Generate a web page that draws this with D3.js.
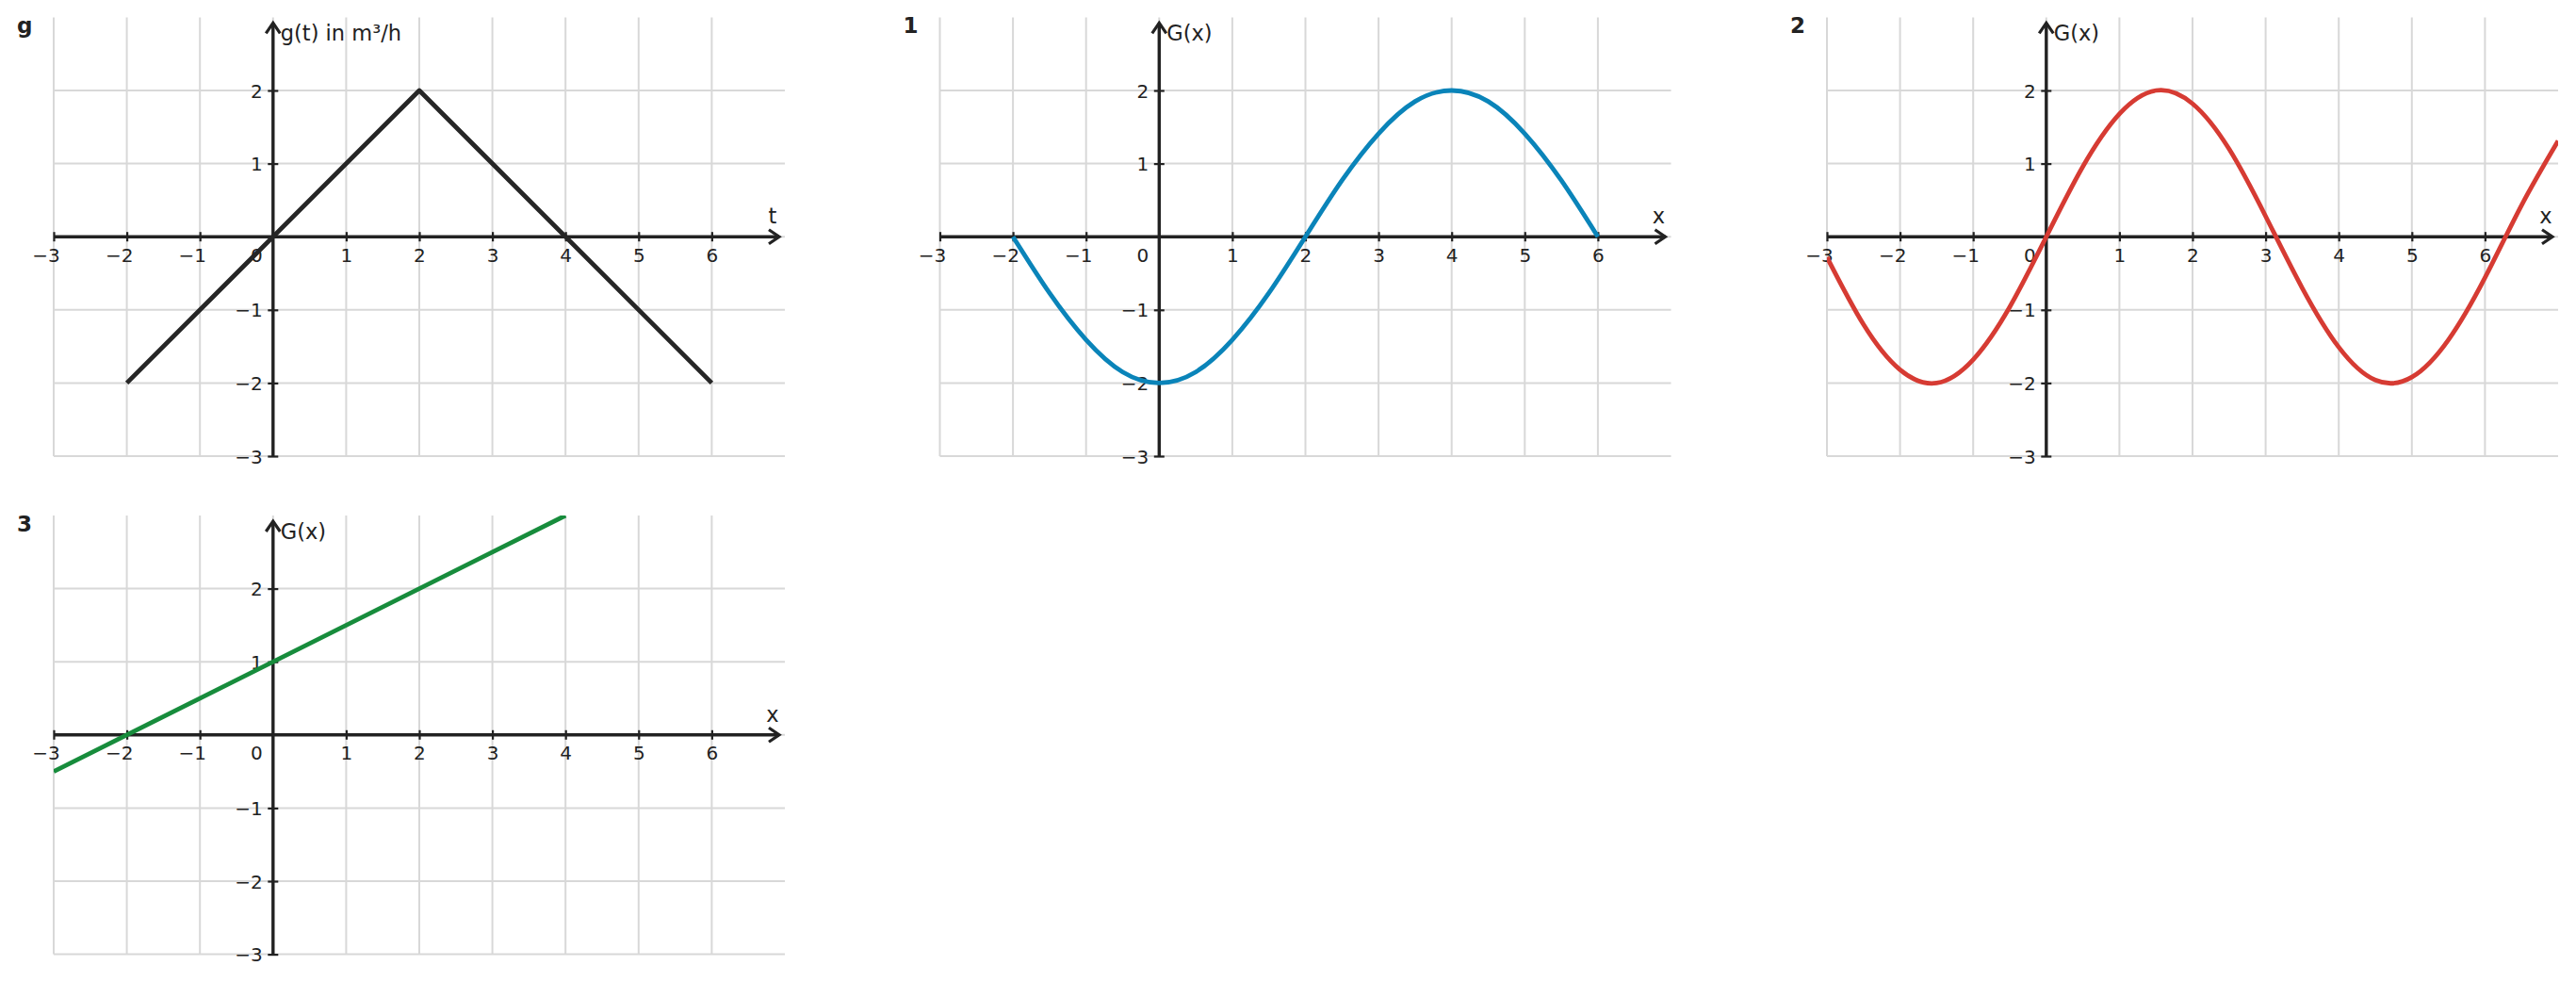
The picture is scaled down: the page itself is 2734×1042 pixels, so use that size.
<!DOCTYPE html>
<html>
<head>
<meta charset="utf-8">
<script src="https://cdn.jsdelivr.net/npm/d3@7"></script>
<style>
  html, body { margin: 0; padding: 0; background: #fff; }
  svg { display: block; font-family: "DejaVu Sans", sans-serif; }
</style>
</head>
<body>
<svg id="chart" width="2734" height="1042"></svg>
<script>
// ---------- data ----------
const xTickValues = [-3, -2, -1, 1, 2, 3, 4, 5, 6];
const yTickValues = [-3, -2, -1, 1, 2];
const gridX = [-3, -2, -1, 0, 1, 2, 3, 4, 5, 6];
const gridY = [-3, -2, -1, 0, 1, 2];

// panel g: g(t)
const gT = [-2, 2, 6];
const gV = [-2, 2, -2];

// panel 1: G(x) (blue)
const g1X = [-2, -1.5, -1, -0.5, 0, 0.5, 1, 1.5, 2, 2.5, 3, 3.5, 4, 4.5, 5, 5.5, 6];
const g1Y = [0, -0.77, -1.41, -1.85, -2, -1.85, -1.41, -0.77, 0, 0.77, 1.41, 1.85, 2, 1.85, 1.41, 0.77, 0];

// panel 2: G(x) (red)
const g2X = [-3, -2.5, -2, -1.5, -1, -0.5, 0, 0.5, 1, 1.5, 2, 2.5, 3, 3.5, 4, 4.5, 5, 5.5, 6, 6.5, 7];
const g2Y = [-0.28, -1.2, -1.82, -2.0, -1.68, -0.96, 0, 0.96, 1.68, 2.0, 1.82, 1.2, 0.28, -0.7, -1.51, -1.96, -1.92, -1.41, -0.56, 0.43, 1.31];

// panel 3: G(x) (green)
const g3X = [-3, 4];
const g3Y = [-0.5, 3];

const panelNames = ["g", "1", "2", "3"];
const panelYLabels = ["g(t) in m³/h", "G(x)", "G(x)", "G(x)"];
const panelXLabels = ["t", "x", "x", "x"];

// ---------- layout / style ----------
const W = 776, H = 465.6;
const panelPos = [[57, 18.4], [997.5, 18.4], [1939, 18.4], [57, 547]];
const curveColors = ["#262626", "#0a84b9", "#d63b33", "#178c3c"];
const curveData = [
  {xs: gT, ys: gV, curve: d3.curveLinear},
  {xs: g1X, ys: g1Y, curve: d3.curveNatural},
  {xs: g2X, ys: g2Y, curve: d3.curveNatural},
  {xs: g3X, ys: g3Y, curve: d3.curveLinear}
];
const axisColor = "#222";
const gridColor = "#d8d8d8";
const tickFont = 20;
const labelFont = 22.5;
const fmt = v => v < 0 ? "\u2212" + Math.abs(v) : String(v);

const svg = d3.select("#chart");

panelNames.forEach((name, i) => {
  const [px, py] = panelPos[i];
  const x = d3.scaleLinear().domain([-3, 7]).range([0, W]);
  const y = d3.scaleLinear().domain([-3, 3]).range([H, 0]);
  const g = svg.append("g").attr("transform", `translate(${px},${py})`);

  const clipId = "clip" + i;
  g.append("clipPath").attr("id", clipId)
    .append("rect").attr("x", 0).attr("y", 0).attr("width", W).attr("height", H);

  // grid
  g.append("g").selectAll("line").data(gridX).join("line")
    .attr("x1", d => x(d)).attr("x2", d => x(d))
    .attr("y1", 0).attr("y2", H)
    .attr("stroke", gridColor).attr("stroke-width", 2);
  g.append("g").selectAll("line").data(gridY).join("line")
    .attr("x1", 0).attr("x2", W)
    .attr("y1", d => y(d)).attr("y2", d => y(d))
    .attr("stroke", gridColor).attr("stroke-width", 2);

  const y0 = y(0), x0 = x(0);

  // x axis via d3.axisBottom
  const xAxis = d3.axisBottom(x).tickValues(xTickValues).tickFormat(fmt).tickSize(5).tickPadding(0);
  const xg = g.append("g").attr("transform", `translate(0,${y0})`).call(xAxis);
  xg.select(".domain").remove();
  xg.selectAll(".tick line").attr("y1", -5).attr("y2", 5)
    .attr("stroke", axisColor).attr("stroke-width", 2.2);
  xg.selectAll(".tick text")
    .attr("fill", axisColor).attr("font-size", tickFont)
    .attr("font-family", "DejaVu Sans")
    .attr("text-anchor", "end")
    .attr("x", 6.3).attr("y", 26.5).attr("dy", null);

  // y axis via d3.axisLeft
  const yAxis = d3.axisLeft(y).tickValues(yTickValues).tickFormat(fmt).tickSize(5).tickPadding(0);
  const yg = g.append("g").attr("transform", `translate(${x0},0)`).call(yAxis);
  yg.select(".domain").remove();
  yg.selectAll(".tick line").attr("x1", -5.5).attr("x2", 5.5)
    .attr("stroke", axisColor).attr("stroke-width", 2.2);
  yg.selectAll(".tick text")
    .attr("fill", axisColor).attr("font-size", tickFont)
    .attr("font-family", "DejaVu Sans")
    .attr("text-anchor", "end")
    .attr("x", -11).attr("dy", "0.35em");

  // "0" label
  g.append("text").attr("x", x0 - 11).attr("y", y0 + 26.5)
    .attr("text-anchor", "end").attr("font-size", tickFont).attr("fill", axisColor)
    .text("0");

  // axis lines with arrows
  const xEnd = W - 6, yEnd = 6;
  g.append("line").attr("x1", x(-3)).attr("x2", xEnd).attr("y1", y0).attr("y2", y0)
    .attr("stroke", axisColor).attr("stroke-width", 3.4);
  g.append("path")
    .attr("d", `M${xEnd - 11},${y0 - 7.5} L${xEnd},${y0} L${xEnd - 11},${y0 + 7.5}`)
    .attr("fill", "none").attr("stroke", axisColor).attr("stroke-width", 3.2)
    .attr("stroke-linejoin", "miter");
  g.append("line").attr("x1", x0).attr("x2", x0).attr("y1", y(-3)).attr("y2", yEnd)
    .attr("stroke", axisColor).attr("stroke-width", 3.4);
  g.append("path")
    .attr("d", `M${x0 - 7.5},${yEnd + 11} L${x0},${yEnd} L${x0 + 7.5},${yEnd + 11}`)
    .attr("fill", "none").attr("stroke", axisColor).attr("stroke-width", 3.2)
    .attr("stroke-linejoin", "miter");

  // axis labels
  g.append("text").attr("x", x0 + 8).attr("y", 25)
    .attr("font-size", labelFont).attr("fill", axisColor).text(panelYLabels[i]);
  g.append("text").attr("x", W - 13).attr("y", y0 - 14)
    .attr("text-anchor", "middle").attr("font-size", labelFont).attr("fill", axisColor)
    .text(panelXLabels[i]);

  // panel label
  svg.append("text").attr("x", px - 39).attr("y", py + 16.5)
    .attr("font-size", 23).attr("font-weight", "bold").attr("fill", axisColor)
    .text(name);

  // curve
  const cd = curveData[i];
  const pts = cd.xs.map((v, k) => [v, cd.ys[k]]);
  const line = d3.line().x(d => x(d[0])).y(d => y(d[1])).curve(cd.curve);
  g.append("path").datum(pts)
    .attr("clip-path", `url(#${clipId})`)
    .attr("d", line)
    .attr("fill", "none").attr("stroke", curveColors[i])
    .attr("stroke-width", 4.8).attr("stroke-linejoin", "round");
});
</script>
</body>
</html>
